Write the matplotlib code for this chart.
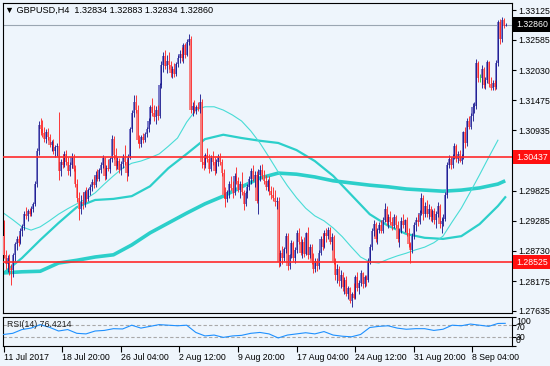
import matplotlib
matplotlib.use("Agg")
import matplotlib.pyplot as plt
import matplotlib.transforms as mtransforms

# GBPUSD H4 bars, 11 Jul 2017 12:00 .. 13 Sep 2017 04:00
opens = [
    1.2900, 1.2866, 1.2850, 1.2860, 1.2842, 1.2838, 1.2865, 1.2885, 1.2895, 1.2887,
    1.2910, 1.2918, 1.2940, 1.2936, 1.2946, 1.2940, 1.2950, 1.2958, 1.2995, 1.3055,
    1.3102, 1.3095, 1.3088, 1.3078, 1.3090, 1.3080, 1.3066, 1.3072, 1.3056, 1.3062,
    1.3065, 1.3018, 1.3035, 1.3030, 1.3050, 1.3036, 1.3018, 1.3030, 1.3045, 1.3022,
    1.2996, 1.2970, 1.2950, 1.2962, 1.2958, 1.2980, 1.2968, 1.2985, 1.2990, 1.2998,
    1.2994, 1.3012, 1.3005, 1.3020, 1.3030, 1.3042, 1.3010, 1.3025, 1.3022, 1.3040,
    1.3078, 1.3048, 1.3028, 1.3038, 1.3020, 1.3032, 1.3045, 1.3035, 1.3015, 1.3045,
    1.3095, 1.3125, 1.3145, 1.3130, 1.3075, 1.3068, 1.3080, 1.3075, 1.3086, 1.3095,
    1.3110, 1.3135, 1.3125, 1.3118, 1.3130, 1.3120, 1.3175, 1.3212, 1.3228, 1.3210,
    1.3220, 1.3212, 1.3198, 1.3205, 1.3195, 1.3214, 1.3225, 1.3232, 1.3225, 1.3248,
    1.3230, 1.3255, 1.3260, 1.3130, 1.3138, 1.3128, 1.3135, 1.3132, 1.3145, 1.3035,
    1.3030, 1.3048, 1.3040, 1.3022, 1.3042, 1.3035, 1.3018, 1.3035, 1.3045, 1.3036,
    1.3015, 1.2975, 1.2968, 1.2980, 1.2995, 1.2988, 1.2978, 1.3010, 1.3000, 1.2985,
    1.2995, 1.2980, 1.2958, 1.2978, 1.2990, 1.3005, 1.3018, 1.3005, 1.3012, 1.2965,
    1.3012, 1.3020, 1.3010, 1.3000, 1.2990, 1.3000, 1.2982, 1.2975, 1.2970, 1.2962,
    1.2965, 1.2852, 1.2870, 1.2860, 1.2876, 1.2900, 1.2845, 1.2865, 1.2888, 1.2860,
    1.2875, 1.2905, 1.2890, 1.2870, 1.2890, 1.2868, 1.2905, 1.2865, 1.2880, 1.2855,
    1.2840, 1.2855, 1.2845, 1.2870, 1.2895, 1.2880, 1.2905, 1.2900, 1.2912, 1.2890,
    1.2898, 1.2855, 1.2830, 1.2840, 1.2818, 1.2830, 1.2808, 1.2820, 1.2795, 1.2805,
    1.2782, 1.2795, 1.2788, 1.2825, 1.2805, 1.2815, 1.2832, 1.2812, 1.2825, 1.2820,
    1.2855, 1.2880, 1.2910, 1.2922, 1.2895, 1.2912, 1.2920, 1.2910, 1.2930, 1.2950,
    1.2925, 1.2935, 1.2925, 1.2918, 1.2935, 1.2920, 1.2895, 1.2910, 1.2928, 1.2920,
    1.2930, 1.2905, 1.2885, 1.2875, 1.2900, 1.2920, 1.2930, 1.2925, 1.2942, 1.2970,
    1.2940, 1.2955, 1.2940, 1.2950, 1.2935, 1.2945, 1.2930, 1.2940, 1.2955, 1.2922,
    1.2928, 1.2932, 1.2975, 1.3030, 1.3040, 1.3030, 1.3045, 1.3065, 1.3040, 1.3050,
    1.3038, 1.3045, 1.3090, 1.3070, 1.3110, 1.3100, 1.3120, 1.3135, 1.3138, 1.3215,
    1.3188, 1.3188, 1.3205, 1.3175, 1.3185, 1.3218, 1.3178, 1.3170, 1.3180, 1.3172,
    1.3215, 1.3290, 1.3260, 1.3295, 1.32834,
]
highs = [
    1.2929, 1.2875, 1.2865, 1.2868, 1.2850, 1.2870, 1.2890, 1.2900, 1.2902, 1.2915,
    1.2922, 1.2945, 1.2953, 1.2950, 1.2952, 1.2955, 1.2962, 1.3000, 1.3060, 1.3110,
    1.3115, 1.3112, 1.3100, 1.3095, 1.3098, 1.3086, 1.3075, 1.3078, 1.3066, 1.3070,
    1.3127, 1.3040, 1.3050, 1.3056, 1.3058, 1.3045, 1.3035, 1.3052, 1.3050, 1.3030,
    1.3005, 1.2980, 1.2975, 1.2980, 1.2985, 1.2990, 1.2988, 1.2995, 1.3005, 1.3010,
    1.3018, 1.3022, 1.3025, 1.3035, 1.3048, 1.3045, 1.3030, 1.3040, 1.3045, 1.3084,
    1.3082, 1.3060, 1.3045, 1.3043, 1.3038, 1.3050, 1.3066, 1.3040, 1.3050, 1.3100,
    1.3130, 1.3157, 1.3157, 1.3140, 1.3085, 1.3084, 1.3088, 1.3090, 1.3100, 1.3115,
    1.3140, 1.3152, 1.3140, 1.3138, 1.3140, 1.3180, 1.3220, 1.3235, 1.3240, 1.3230,
    1.3235, 1.3220, 1.3210, 1.3215, 1.3218, 1.3230, 1.3240, 1.3245, 1.3252, 1.3253,
    1.3260, 1.3269, 1.3265, 1.3145, 1.3148, 1.3140, 1.3145, 1.3160, 1.3150, 1.3045,
    1.3052, 1.3060, 1.3050, 1.3048, 1.3055, 1.3045, 1.3040, 1.3050, 1.3052, 1.3040,
    1.3022, 1.2990, 1.2985, 1.3000, 1.3010, 1.3000, 1.3015, 1.3026, 1.3008, 1.3000,
    1.3017, 1.2985, 1.2982, 1.2995, 1.3010, 1.3025, 1.3030, 1.3018, 1.3018, 1.3022,
    1.3030, 1.3032, 1.3020, 1.3012, 1.3005, 1.3010, 1.2992, 1.2989, 1.2985, 1.2972,
    1.2972, 1.2875, 1.2882, 1.2880, 1.2905, 1.2906, 1.2868, 1.2893, 1.2892, 1.2880,
    1.2911, 1.2915, 1.2900, 1.2895, 1.2898, 1.2908, 1.2916, 1.2885, 1.2885, 1.2870,
    1.2860, 1.2860, 1.2875, 1.2900, 1.2905, 1.2911, 1.2915, 1.2917, 1.2916, 1.2905,
    1.2902, 1.2860, 1.2850, 1.2845, 1.2838, 1.2835, 1.2825, 1.2828, 1.2810, 1.2808,
    1.2798, 1.2815, 1.2830, 1.2835, 1.2820, 1.2838, 1.2835, 1.2830, 1.2830, 1.2860,
    1.2885, 1.2915, 1.2929, 1.2926, 1.2915, 1.2925, 1.2930, 1.2935, 1.2961, 1.2955,
    1.2940, 1.2945, 1.2935, 1.2940, 1.2938, 1.2928, 1.2915, 1.2935, 1.2940, 1.2932,
    1.2935, 1.2915, 1.2890, 1.2905, 1.2925, 1.2935, 1.2940, 1.2948, 1.2979, 1.2975,
    1.2962, 1.2966, 1.2958, 1.2955, 1.2950, 1.2952, 1.2945, 1.2962, 1.2958, 1.2935,
    1.2940, 1.2980, 1.3035, 1.3048, 1.3045, 1.3050, 1.3070, 1.3068, 1.3055, 1.3058,
    1.3050, 1.3092, 1.3100, 1.3115, 1.3120, 1.3125, 1.3142, 1.3145, 1.3224, 1.3220,
    1.3195, 1.3212, 1.3208, 1.3190, 1.3222, 1.3220, 1.3190, 1.3185, 1.3185, 1.3221,
    1.3295, 1.3296, 1.3300, 1.3298, 1.32883,
]
lows = [
    1.2860, 1.2840, 1.2835, 1.2830, 1.2811, 1.2825, 1.2855, 1.2875, 1.2882, 1.2885,
    1.2900, 1.2912, 1.2932, 1.2928, 1.2936, 1.2936, 1.2944, 1.2955, 1.2990, 1.3048,
    1.3085, 1.3080, 1.3072, 1.3070, 1.3075, 1.3062, 1.3055, 1.3050, 1.3045, 1.3046,
    1.3002, 1.3010, 1.3025, 1.3026, 1.3030, 1.3012, 1.3010, 1.3025, 1.3018, 1.2990,
    1.2962, 1.2929, 1.2940, 1.2950, 1.2953, 1.2962, 1.2965, 1.2975, 1.2982, 1.2988,
    1.2990, 1.3000, 1.3000, 1.3015, 1.3025, 1.3002, 1.3005, 1.3018, 1.3016, 1.3035,
    1.3040, 1.3020, 1.3022, 1.3015, 1.3012, 1.3025, 1.3030, 1.3000, 1.3010, 1.3040,
    1.3090, 1.3118, 1.3125, 1.3070, 1.3060, 1.3062, 1.3070, 1.3072, 1.3080, 1.3090,
    1.3105, 1.3120, 1.3110, 1.3105, 1.3112, 1.3115, 1.3170, 1.3200, 1.3205, 1.3198,
    1.3205, 1.3190, 1.3188, 1.3190, 1.3192, 1.3208, 1.3215, 1.3220, 1.3215, 1.3225,
    1.3228, 1.3248, 1.3125, 1.3120, 1.3125, 1.3122, 1.3128, 1.3125, 1.3024, 1.3020,
    1.3025, 1.3035, 1.3015, 1.3018, 1.3030, 1.3012, 1.3015, 1.3028, 1.3030, 1.3010,
    1.2970, 1.2953, 1.2962, 1.2970, 1.2985, 1.2970, 1.2975, 1.2995, 1.2980, 1.2970,
    1.2975, 1.2948, 1.2955, 1.2970, 1.2985, 1.2995, 1.3000, 1.2990, 1.2960, 1.2940,
    1.3000, 1.3005, 1.2995, 1.2985, 1.2982, 1.2975, 1.2968, 1.2965, 1.2955, 1.2950,
    1.2844, 1.2845, 1.2850, 1.2855, 1.2870, 1.2838, 1.2840, 1.2860, 1.2855, 1.2851,
    1.2870, 1.2885, 1.2865, 1.2860, 1.2862, 1.2865, 1.2858, 1.2860, 1.2850, 1.2833,
    1.2835, 1.2836, 1.2840, 1.2865, 1.2875, 1.2878, 1.2890, 1.2895, 1.2885, 1.2875,
    1.2850, 1.2820, 1.2815, 1.2810, 1.2805, 1.2800, 1.2795, 1.2790, 1.2785, 1.2778,
    1.2771, 1.2785, 1.2786, 1.2800, 1.2795, 1.2810, 1.2805, 1.2808, 1.2810, 1.2816,
    1.2850, 1.2875, 1.2900, 1.2890, 1.2885, 1.2905, 1.2905, 1.2905, 1.2925, 1.2920,
    1.2915, 1.2920, 1.2911, 1.2915, 1.2915, 1.2890, 1.2880, 1.2905, 1.2915, 1.2908,
    1.2900, 1.2880, 1.2851, 1.2870, 1.2895, 1.2910, 1.2918, 1.2922, 1.2938, 1.2930,
    1.2935, 1.2935, 1.2932, 1.2928, 1.2925, 1.2922, 1.2915, 1.2935, 1.2915, 1.2906,
    1.2918, 1.2928, 1.2970, 1.3025, 1.3022, 1.3025, 1.3040, 1.3035, 1.3033, 1.3035,
    1.3032, 1.3040, 1.3060, 1.3065, 1.3095, 1.3095, 1.3110, 1.3125, 1.3132, 1.3182,
    1.3182, 1.3170, 1.3170, 1.3168, 1.3180, 1.3172, 1.3166, 1.3166, 1.3166, 1.3168,
    1.3210, 1.3250, 1.3255, 1.3280, 1.32834,
]
closes = [
    1.2866, 1.2850, 1.2860, 1.2842, 1.2838, 1.2865, 1.2885, 1.2895, 1.2887, 1.2910,
    1.2918, 1.2940, 1.2936, 1.2946, 1.2940, 1.2950, 1.2958, 1.2995, 1.3055, 1.3102,
    1.3095, 1.3088, 1.3078, 1.3090, 1.3080, 1.3066, 1.3072, 1.3056, 1.3062, 1.3065,
    1.3018, 1.3035, 1.3030, 1.3050, 1.3036, 1.3018, 1.3030, 1.3045, 1.3022, 1.2996,
    1.2970, 1.2950, 1.2962, 1.2958, 1.2980, 1.2968, 1.2985, 1.2990, 1.2998, 1.2994,
    1.3012, 1.3005, 1.3020, 1.3030, 1.3042, 1.3010, 1.3025, 1.3022, 1.3040, 1.3078,
    1.3048, 1.3028, 1.3038, 1.3020, 1.3032, 1.3045, 1.3035, 1.3015, 1.3045, 1.3095,
    1.3125, 1.3145, 1.3130, 1.3075, 1.3068, 1.3080, 1.3075, 1.3086, 1.3095, 1.3110,
    1.3135, 1.3125, 1.3118, 1.3130, 1.3120, 1.3175, 1.3212, 1.3228, 1.3210, 1.3220,
    1.3212, 1.3198, 1.3205, 1.3195, 1.3214, 1.3225, 1.3232, 1.3225, 1.3248, 1.3230,
    1.3255, 1.3260, 1.3130, 1.3138, 1.3128, 1.3135, 1.3132, 1.3145, 1.3035, 1.3030,
    1.3048, 1.3040, 1.3022, 1.3042, 1.3035, 1.3018, 1.3035, 1.3045, 1.3036, 1.3015,
    1.2975, 1.2968, 1.2980, 1.2995, 1.2988, 1.2978, 1.3010, 1.3000, 1.2985, 1.2995,
    1.2980, 1.2958, 1.2978, 1.2990, 1.3005, 1.3018, 1.3005, 1.3012, 1.2965, 1.3012,
    1.3020, 1.3010, 1.3000, 1.2990, 1.3000, 1.2982, 1.2975, 1.2970, 1.2962, 1.2965,
    1.2852, 1.2870, 1.2860, 1.2876, 1.2900, 1.2845, 1.2865, 1.2888, 1.2860, 1.2875,
    1.2905, 1.2890, 1.2870, 1.2890, 1.2868, 1.2905, 1.2865, 1.2880, 1.2855, 1.2840,
    1.2855, 1.2845, 1.2870, 1.2895, 1.2880, 1.2905, 1.2900, 1.2912, 1.2890, 1.2898,
    1.2855, 1.2830, 1.2840, 1.2818, 1.2830, 1.2808, 1.2820, 1.2795, 1.2805, 1.2782,
    1.2795, 1.2788, 1.2825, 1.2805, 1.2815, 1.2832, 1.2812, 1.2825, 1.2820, 1.2855,
    1.2880, 1.2910, 1.2922, 1.2895, 1.2912, 1.2920, 1.2910, 1.2930, 1.2950, 1.2925,
    1.2935, 1.2925, 1.2918, 1.2935, 1.2920, 1.2895, 1.2910, 1.2928, 1.2920, 1.2930,
    1.2905, 1.2885, 1.2875, 1.2900, 1.2920, 1.2930, 1.2925, 1.2942, 1.2970, 1.2940,
    1.2955, 1.2940, 1.2950, 1.2935, 1.2945, 1.2930, 1.2940, 1.2955, 1.2922, 1.2928,
    1.2932, 1.2975, 1.3030, 1.3040, 1.3030, 1.3045, 1.3065, 1.3040, 1.3050, 1.3038,
    1.3045, 1.3090, 1.3070, 1.3110, 1.3100, 1.3120, 1.3135, 1.3138, 1.3215, 1.3188,
    1.3188, 1.3205, 1.3175, 1.3185, 1.3218, 1.3178, 1.3170, 1.3180, 1.3172, 1.3215,
    1.3290, 1.3260, 1.3295, 1.3283, 1.32860,
]

# moving averages (bar index -> value)
ma_fast_idx = list(range(0, 271, 5))
ma_fast = [
    1.2942, 1.2930, 1.2917, 1.2911, 1.2917, 1.2928, 1.2940, 1.2950, 1.2959, 1.2968,
    1.2979, 1.2995, 1.3010, 1.3024, 1.3033, 1.3037, 1.3043, 1.3050, 1.3064, 1.3079,
    1.3108, 1.3130, 1.3136, 1.3136, 1.3130, 1.3121, 1.3110, 1.3092, 1.3070, 1.3044,
    1.3017, 1.2992, 1.2970, 1.2951, 1.2937, 1.2928, 1.2915, 1.2899, 1.2880, 1.2862,
    1.2853, 1.2851, 1.2858, 1.2864, 1.2869, 1.2875, 1.2880, 1.2888, 1.2900, 1.2926,
    1.2951, 1.2981, 1.3012, 1.3044, 1.3075,
]
ma_slow_idx = list(range(0, 271, 10)) + [274]
ma_mid = [
    1.2833, 1.2860, 1.2893, 1.2924, 1.2953, 1.2966, 1.2968, 1.2973, 1.2991, 1.3024,
    1.3050, 1.3077, 1.3085, 1.3079, 1.3074, 1.3070, 1.3057, 1.3037, 1.3010, 1.2975,
    1.2940, 1.2919, 1.2904, 1.2897, 1.2895, 1.2900, 1.2922, 1.2955, 1.2971,
]
ma_long = [
    1.2833, 1.2835, 1.2836, 1.2851, 1.2856, 1.2862, 1.2866, 1.2884, 1.2906, 1.2924,
    1.2942, 1.2959, 1.2973, 1.2990, 1.3006, 1.3015, 1.3013, 1.3008, 1.3001, 1.2997,
    1.2993, 1.2990, 1.2986, 1.2984, 1.2982, 1.2984, 1.2988, 1.2995, 1.3001,
]

rsi_idx = list(range(0, 271, 5)) + [274]
rsi = [
    38, 42, 55, 60, 72, 63, 50, 55, 42, 40,
    50, 52, 58, 57, 70, 60, 66, 72, 70, 68,
    70, 45, 33, 36, 28, 33, 35, 42, 45, 40,
    26, 36, 40, 44, 40, 48, 36, 32, 30, 38,
    62, 66, 68, 60, 56, 58, 58, 52, 56, 70,
    68, 74, 70, 66, 76, 76.4214,
]

level_lines = [1.30437, 1.28525]
bid = 1.32860
price_ticks = [1.33125, 1.32585, 1.32030, 1.31475, 1.30935, 1.30380,
               1.29825, 1.29285, 1.28730, 1.28175, 1.27635]
date_idx = [0, 32, 64, 96, 128, 160, 192, 224, 256]
date_labels = ["11 Jul 2017", "18 Jul 20:00", "26 Jul 04:00", "2 Aug 12:00",
               "9 Aug 20:00", "17 Aug 04:00", "24 Aug 12:00", "31 Aug 20:00",
               "8 Sep 04:00"]

W, H = 550, 366
bg = "#eef5fc"
plt.rcParams["font.family"] = ["Liberation Sans", "DejaVu Sans"]
fs = 6.3


def fx(px):
    return px / W


def fy(py):
    return 1 - py / H


fig = plt.figure(figsize=(W / 100, H / 100), dpi=100, facecolor=bg)
ax = fig.add_axes([fx(2.5), fy(313), fx(512) - fx(2.5), fy(3) - fy(313)])
ax.set_facecolor(bg)

n = len(closes)
xs = list(range(n))
wick_c, body_c, body_b, body_h = [], [], [], []
for o, c in zip(opens, closes):
    if c > o:
        wick_c.append("#10108a")
        body_c.append("#7b7bc8")
    elif c < o:
        wick_c.append("#ff1a1a")
        body_c.append("#f47f7f")
    else:
        wick_c.append("#22cc22")
        body_c.append("#22cc22")
    body_b.append(min(o, c))
    body_h.append(abs(c - o))

ax.plot(ma_slow_idx, ma_long, color="#2ccfca", lw=2.6, zorder=2, solid_capstyle="butt")
ax.plot(ma_slow_idx, ma_mid, color="#2ccfca", lw=1.6, zorder=2)
ax.plot(ma_fast_idx, ma_fast, color="#48dcd6", lw=0.8, zorder=2)

ax.bar(xs, body_h, bottom=body_b, width=0.95, color=body_c, zorder=3, linewidth=0)
ax.vlines([x + 0.2 for x in xs], lows, highs, colors=wick_c, lw=0.6, zorder=4)

ax.axhline(bid, color="#9aa6b2", lw=0.8, zorder=1)
for lv in level_lines:
    ax.axhline(lv, color="#ff2a2a", lw=1.2, zorder=5)

ax.set_xlim(-0.6, 277.7)
ax.set_ylim(1.275985, 1.332527)
ax.set_xticks([])
ax.yaxis.tick_right()
ax.set_yticks(price_ticks)
ax.set_yticklabels([f"{p:.5f}" for p in price_ticks])
ax.tick_params(axis="y", direction="out", length=3, width=0.8, pad=1.5,
               labelsize=fs, colors="black")
for s in ax.spines.values():
    s.set_color("black")
    s.set_linewidth(0.8)

blend = mtransforms.blended_transform_factory(ax.transAxes, ax.transData)
for val, fc in [(bid, "black"), (level_lines[0], "#ff1010"), (level_lines[1], "#ff1010")]:
    ax.text(1.0075, val, f"{val:.5f}", transform=blend, ha="left", va="center",
            fontsize=fs, color="white", clip_on=False, zorder=10,
            bbox=dict(boxstyle="square,pad=0.3", fc=fc, ec="none"))

fig.text(fx(5), fy(10), "\u25bc GBPUSD,H4  1.32834 1.32883 1.32834 1.32860",
         fontsize=6.6, va="center", ha="left", color="black")

# RSI panel
ax2 = fig.add_axes([fx(2.5), fy(345.5), fx(512) - fx(2.5), fy(316.5) - fy(345.5)])
ax2.set_facecolor(bg)
ax2.plot(rsi_idx, rsi, color="#1e90ff", lw=0.8, zorder=3)
for lv in (30, 70):
    ax2.axhline(lv, color="#a9a9a9", lw=0.8, ls=(0, (3, 2)), zorder=2)
ax2.set_xlim(-0.6, 277.7)
ax2.set_ylim(0, 100)
ax2.yaxis.tick_right()
ax2.set_yticks([0, 30, 70, 100])
ax2.set_yticklabels([])
ax2.tick_params(axis="y", direction="out", length=3, width=0.8)
ax2.set_xticks(date_idx)
ax2.set_xticklabels(date_labels, ha="left")
ax2.tick_params(axis="x", direction="out", length=4, width=0.8, pad=1.5,
                labelsize=fs, colors="black")
for s in ax2.spines.values():
    s.set_color("black")
    s.set_linewidth(0.8)
ax2.text(0.008, 0.72, "RSI(14) 76.4214", transform=ax2.transAxes,
         fontsize=fs, va="center", ha="left", color="#202020")
for lab, py in [("100", 321.5), ("70", 327), ("30", 337.5), ("0", 340.5)]:
    fig.text(fx(516), fy(py), lab, fontsize=fs, va="center", ha="left", color="black")

fig.savefig("out.png", dpi=100, facecolor=bg)
